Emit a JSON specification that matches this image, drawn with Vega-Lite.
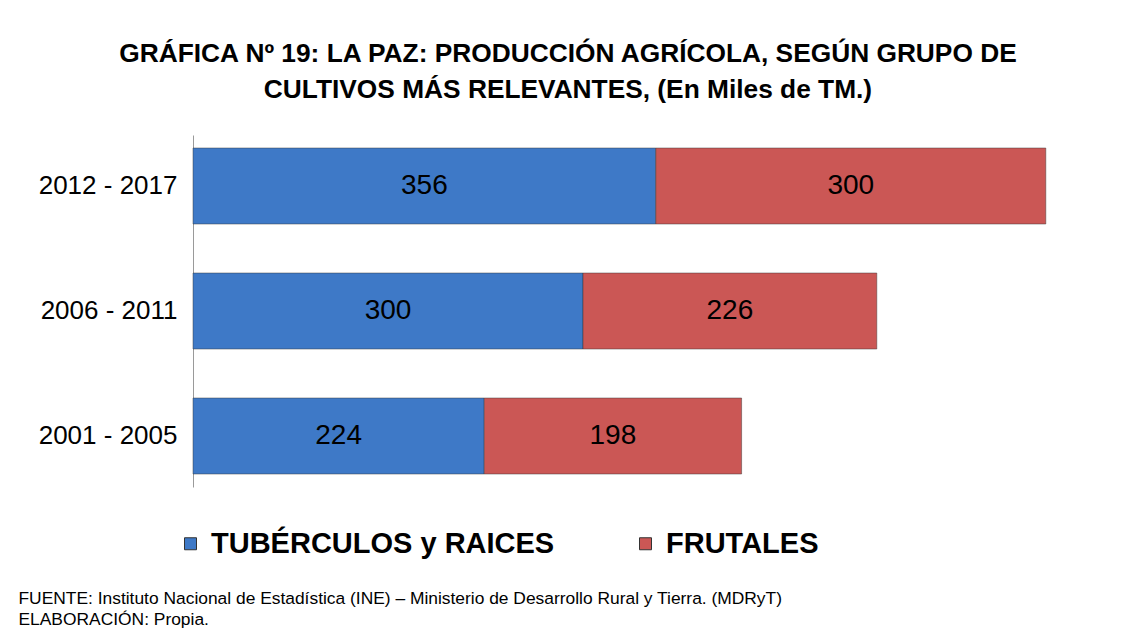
{
  "$schema": "https://vega.github.io/schema/vega-lite/v6.json",
  "width": 910,
  "height": 352,
  "autosize": {"type": "none"},
  "padding": {"left": 193, "top": 135, "right": 23, "bottom": 154},
  "background": "white",
  "config": {"view": {"stroke": null}},
  "title": {
    "text": ["GRÁFICA Nº 19: LA PAZ: PRODUCCIÓN AGRÍCOLA, SEGÚN GRUPO DE", "CULTIVOS MÁS RELEVANTES, (En Miles de TM.)"],
    "font": "Liberation Sans",
    "fontSize": 26.3,
    "fontWeight": "bold",
    "lineHeight": 36,
    "anchor": "middle",
    "dx": -80,
    "offset": 32,
    "color": "black"
  },
  "data": {
    "values": [
      {"periodo": "2012 - 2017", "grupo": "TUBÉRCULOS y RAICES", "orden": 1, "valor": 356},
      {"periodo": "2012 - 2017", "grupo": "FRUTALES", "orden": 2, "valor": 300},
      {"periodo": "2006 - 2011", "grupo": "TUBÉRCULOS y RAICES", "orden": 1, "valor": 300},
      {"periodo": "2006 - 2011", "grupo": "FRUTALES", "orden": 2, "valor": 226},
      {"periodo": "2001 - 2005", "grupo": "TUBÉRCULOS y RAICES", "orden": 1, "valor": 224},
      {"periodo": "2001 - 2005", "grupo": "FRUTALES", "orden": 2, "valor": 198}
    ]
  },
  "transform": [
    {"stack": "valor", "groupby": ["periodo"], "sort": [{"field": "orden"}], "as": ["x0", "x1"]},
    {"calculate": "(datum.x0 + datum.x1) / 2", "as": "xm"}
  ],
  "encoding": {
    "y": {
      "field": "periodo",
      "type": "nominal",
      "sort": ["2012 - 2017", "2006 - 2011", "2001 - 2005"],
      "scale": {"paddingInner": 0.392, "paddingOuter": 0.104},
      "axis": {
        "title": null,
        "ticks": false,
        "domain": true,
        "domainColor": "#9a9a9a",
        "labelFont": "Liberation Sans",
        "labelFontSize": 26,
        "labelColor": "black",
        "labelPadding": 16
      }
    }
  },
  "layer": [
    {
      "mark": {"type": "bar", "stroke": "#333333", "strokeOpacity": 0.45, "strokeWidth": 1},
      "encoding": {
        "x": {
          "field": "x0",
          "type": "quantitative",
          "scale": {"domain": [0, 700]},
          "axis": {
            "domain": false,
            "ticks": false,
            "labels": false,
            "grid": false,
            "title": ["FUENTE: Instituto Nacional de Estadística (INE) – Ministerio de Desarrollo Rural y Tierra. (MDRyT)", "ELABORACIÓN: Propia."],
            "titleFont": "Liberation Sans",
            "titleFontSize": 17.4,
            "titleFontWeight": "normal",
            "titleColor": "black",
            "titleAnchor": "start",
            "titleAlign": "left",
            "titleBaseline": "top",
            "titleX": -175,
            "titleY": 102,
            "titleLineHeight": 21
          }
        },
        "x2": {"field": "x1"},
        "color": {
          "field": "grupo",
          "type": "nominal",
          "scale": {"domain": ["TUBÉRCULOS y RAICES", "FRUTALES"], "range": ["#3E79C7", "#CB5755"]},
          "legend": {
            "orient": "none",
            "legendX": -17,
            "legendY": 394,
            "direction": "horizontal",
            "title": null,
            "labelFont": "Liberation Sans",
            "labelFontSize": 29,
            "labelFontWeight": "bold",
            "labelColor": "black",
            "labelLimit": 0,
            "symbolType": "square",
            "symbolSize": 144,
            "symbolStrokeWidth": 1,
            "labelOffset": 6,
            "columnPadding": 76
          }
        }
      }
    },
    {
      "mark": {"type": "text", "font": "Liberation Sans", "fontSize": 28, "color": "black", "baseline": "middle", "align": "center"},
      "encoding": {
        "x": {"field": "xm", "type": "quantitative"},
        "text": {"field": "valor", "type": "quantitative"}
      }
    }
  ]
}
